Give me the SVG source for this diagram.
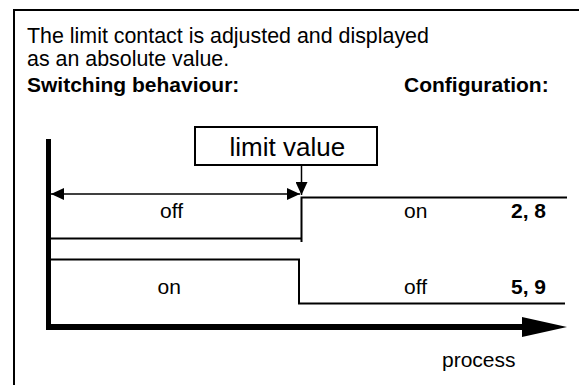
<svg xmlns="http://www.w3.org/2000/svg" width="579" height="385" viewBox="0 0 579 385">
<style>
text{font-family:"Liberation Sans",Arial,sans-serif;font-size:21px;fill:#000}
.b{font-weight:bold}
.h{font-size:21.4px}
.ln{fill:none;stroke:#000;stroke-width:2}
</style>
<defs>
<marker id="ah" markerUnits="userSpaceOnUse" markerWidth="13" markerHeight="12" refX="13" refY="6" orient="auto-start-reverse">
<path d="M0,0 L13,6 L0,12 z" fill="#000"/>
</marker>
</defs>
<rect width="579" height="385" fill="#fff"/>
<g id="frame">
<path class="ln" d="M14,385 V10 H579"/>
</g>
<g id="header">
<text class="h" x="27" y="43">The limit contact is adjusted and displayed</text>
<text class="h" x="27" y="66">as an absolute value.</text>
<text class="b" x="27" y="92">Switching behaviour:</text>
<text class="b" x="404" y="92">Configuration:</text>
</g>
<g id="axes">
<line x1="48.5" y1="139" x2="48.5" y2="330" stroke="#000" stroke-width="5"/>
<line x1="46" y1="327" x2="523" y2="327" stroke="#000" stroke-width="6"/>
<polygon points="522,317 567,327 522,337" fill="#000"/>
<text id="process" x="442" y="367">process</text>
</g>
<g id="limit-value">
<rect x="195" y="127" width="182" height="38" fill="#fff" stroke="#000" stroke-width="2"/>
<text x="229.5" y="156" style="font-size:26px">limit value</text>
</g>
<g id="connectors">
<line x1="301.5" y1="165" x2="301.5" y2="195" stroke="#000" stroke-width="1.5" marker-end="url(#ah)"/>
<line x1="51" y1="194" x2="300" y2="194" stroke="#000" stroke-width="1.5" marker-start="url(#ah)" marker-end="url(#ah)"/>
</g>
<g id="switching-2-8">
<path class="ln" d="M50,238.5 H301.5 M301.5,242 V197.5 H567"/>
<text x="160" y="218">off</text>
<text x="404" y="217.5">on</text>
<text class="b" x="511" y="217.5">2, 8</text>
</g>
<g id="switching-5-9">
<path class="ln" d="M50,259.5 H299 V303.5 H565"/>
<text x="157.5" y="294">on</text>
<text x="404" y="293.5">off</text>
<text class="b" x="511" y="293.5">5, 9</text>
</g>
</svg>
